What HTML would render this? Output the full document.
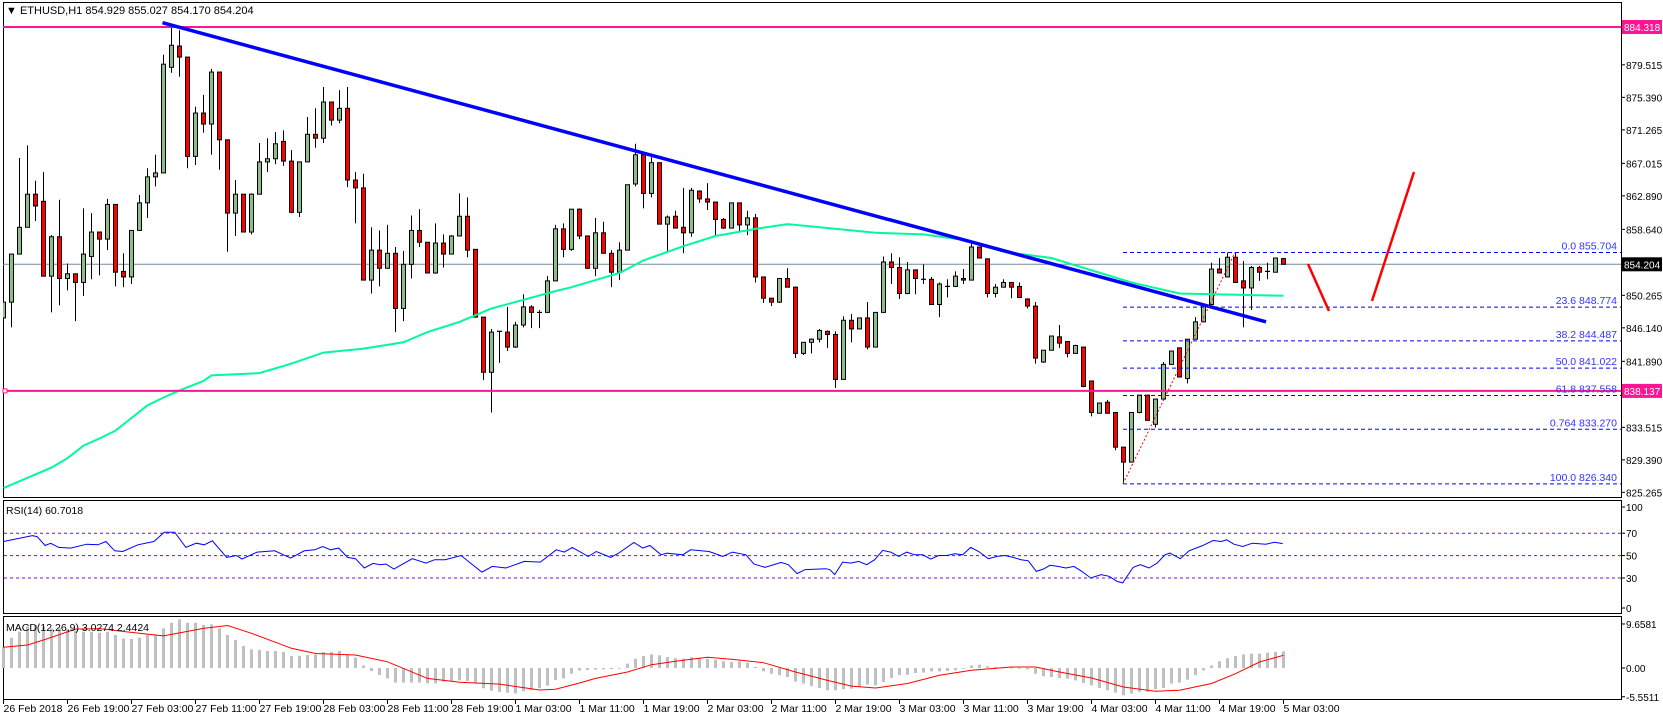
<!DOCTYPE html>
<html><head><meta charset="utf-8"><title>ETHUSD H1</title>
<style>
html,body{margin:0;padding:0;background:#fff;}
svg{display:block;font-family:"Liberation Sans",sans-serif;}
</style></head>
<body>
<svg id="chart" width="1663" height="720" viewBox="0 0 1663 720" xmlns="http://www.w3.org/2000/svg">
<rect x="0" y="0" width="1663" height="720" fill="#fff"/>
<defs><clipPath id="mainClip"><rect x="3" y="3" width="1618" height="494"/></clipPath></defs>
<g id="main"></g>
<g id="rsi"></g>
<g id="macd"></g>
<g id="axes"></g>
</svg>
<script>
const O=[847.4,849.4,855.5,858.9,863.1,862.2,852.7,857.7,852.4,853.0,851.9,855.2,858.3,857.4,861.8,853.3,852.6,858.5,862.0,865.3,865.8,879.2,881.9,880.5,867.9,873.4,872.0,878.6,870.0,860.7,863.1,858.3,863.1,867.2,867.6,869.8,867.3,860.8,867.2,870.7,870.2,874.8,872.5,874.0,864.9,863.9,852.2,856.0,853.7,855.6,848.6,854.2,858.5,857.0,853.1,856.9,855.5,857.8,860.3,856.1,847.5,840.5,845.7,845.6,843.7,846.5,848.8,848.1,848.1,852.1,858.7,856.1,861.2,857.8,853.7,858.2,855.6,853.2,856.0,864.4,868.1,863.2,867.1,859.3,860.3,858.9,858.2,863.5,862.5,862.1,859.9,858.8,862.0,859.2,860.1,852.6,849.9,849.4,852.4,851.3,842.9,844.3,844.7,845.7,845.3,839.6,847.1,846.0,847.4,843.7,848.1,854.5,853.8,850.5,853.5,852.3,852.3,849.1,851.4,851.4,852.4,852.2,856.4,854.9,850.5,851.3,851.9,851.4,849.8,848.9,841.8,843.3,845.0,844.4,842.9,843.7,839.4,835.3,836.7,835.4,831.0,829.1,835.4,837.6,833.9,837.1,841.5,843.6,839.7,844.7,846.9,849.1,853.6,852.6,855.1,852.1,851.2,853.8,853.2,853.2,854.929];
const H=[852.6,855.5,867.7,869.3,864.8,865.9,857.9,862.4,854.3,853.0,861.3,860.7,858.3,862.5,861.8,855.6,858.5,863.0,866.4,868.1,880.8,884.2,883.9,880.5,874.2,875.7,879.0,878.6,870.0,864.9,863.1,863.2,869.6,870.2,871.0,871.2,868.7,867.2,872.9,874.0,876.7,874.8,876.3,876.7,865.9,865.7,858.9,858.5,859.2,856.4,855.9,860.4,861.2,857.0,859.4,858.0,857.9,863.2,862.7,856.1,847.5,846.0,845.7,848.8,846.9,850.4,849.0,848.4,852.7,859.2,859.4,861.2,861.3,857.8,860.1,859.6,856.0,857.0,864.3,869.5,868.1,867.8,867.1,860.4,861.0,863.9,863.9,863.6,864.5,862.1,860.1,862.0,862.0,861.0,860.6,852.6,849.9,852.4,853.7,851.4,844.3,844.8,846.0,845.8,845.7,847.6,847.9,847.4,849.4,848.1,855.2,855.6,855.1,854.5,853.5,854.2,852.6,851.9,852.3,853.3,853.6,856.9,856.4,854.9,851.7,852.3,851.9,851.9,849.9,849.4,843.3,845.1,846.5,844.4,844.0,843.7,839.4,836.6,837.0,835.4,831.0,835.4,837.6,837.6,837.1,841.8,843.2,843.6,844.7,847.5,849.1,854.4,855.0,855.7,855.7,854.6,854.0,854.0,854.4,855.0,855.027];
const L=[846.7,846.2,855.5,858.9,859.7,852.7,848.1,849.0,850.9,847.0,850.2,852.3,852.8,856.0,851.4,851.3,851.7,858.5,860.1,864.1,865.8,878.5,878.0,866.4,866.8,870.9,868.1,866.2,855.8,857.8,858.3,858.0,863.1,865.9,866.9,866.7,860.7,860.2,867.2,869.0,869.6,871.8,872.1,864.0,859.4,852.2,850.5,851.4,853.7,845.6,847.0,852.4,856.4,853.1,853.0,853.8,855.5,857.8,855.1,847.5,839.5,835.4,841.7,843.2,843.6,846.2,846.1,846.1,848.1,852.1,855.1,855.9,857.4,853.6,852.7,855.6,851.3,852.2,856.0,864.1,861.3,862.7,859.3,855.9,858.8,855.6,857.7,862.0,861.1,857.8,858.7,858.8,858.3,857.9,851.9,849.3,848.9,849.3,851.3,842.3,842.7,842.9,844.3,843.6,838.5,839.6,844.3,846.0,843.4,843.7,848.1,851.7,849.8,850.4,850.4,851.7,849.1,847.5,850.0,851.3,851.7,852.2,855.0,850.0,850.0,851.3,849.9,850.0,848.6,841.6,841.7,843.3,843.6,842.4,842.9,838.6,834.9,835.3,835.3,830.6,826.34,829.1,835.3,834.4,833.5,837.1,841.5,839.9,839.1,844.7,846.9,849.1,853.1,852.6,851.9,846.2,848.4,852.1,852.3,853.2,854.170];
const C=[849.4,855.5,858.9,863.1,861.6,852.7,857.7,852.4,853.0,851.9,855.5,858.3,857.4,861.8,853.2,852.6,858.5,862.0,865.3,865.8,879.6,882.0,880.5,867.9,873.4,872.0,878.6,870.0,860.7,863.1,858.3,863.1,867.2,867.6,869.5,867.3,860.8,867.2,870.7,870.2,874.8,872.5,874.0,864.9,863.9,852.2,856.0,853.7,855.6,848.6,854.2,858.5,857.0,853.1,856.9,855.5,857.8,860.3,856.0,847.5,840.5,845.6,845.7,843.7,846.5,848.8,848.1,848.1,852.1,858.7,856.1,861.2,857.8,853.7,858.2,855.6,853.2,856.0,864.3,868.1,863.2,867.1,859.3,860.2,858.8,858.2,863.6,862.5,862.1,859.9,858.8,862.0,859.2,860.1,852.6,849.9,849.4,852.4,851.3,842.9,844.3,844.7,845.8,845.3,839.6,847.1,846.0,847.4,843.7,848.1,854.5,853.8,850.5,853.5,852.4,852.3,849.1,851.7,851.4,852.7,852.2,856.4,855.0,850.5,851.3,851.9,851.3,850.0,848.9,842.3,843.3,845.1,844.2,842.9,843.9,838.7,835.4,836.6,835.3,831.0,829.1,835.4,837.6,834.4,837.1,841.5,843.2,839.9,844.7,846.9,849.1,853.6,853.1,855.1,851.9,851.2,853.8,853.2,853.3,855.0,854.204];
const maBar=[0,6,8,10,12,14,16,18,20,22,25,26,32,36,40,45,50,53,57,61,65,69,71,77,80,85,89,94,98,102,109,115,120,125,131,141,147,160];
const maVal=[825.8,828.4,829.6,831.2,832.1,833.1,834.7,836.3,837.3,838.2,839.4,840.1,840.4,841.6,843.0,843.5,844.3,845.6,846.9,848.6,849.7,850.8,851.3,853.1,854.7,856.5,857.8,858.7,859.3,858.9,858.2,858.0,857.3,855.8,855.0,851.9,850.5,850.2];
const rsiBar=[0,3.6,4.2,5.2,5.9,6.9,8.4,10.4,11.8,12.8,13.9,14.9,16.8,18.8,20.1,21.4,22.8,24.1,25.1,26.1,27.9,29.1,29.8,31.7,33.9,35.9,37.6,38.9,39.9,40.9,41.9,43,44,45.1,46.2,47.1,47.8,48.8,51.1,52.8,53.9,55.2,57.2,58.1,59.8,61.1,62.8,65.1,67.1,69.1,70.1,71.1,73.1,74.1,75.9,76.9,78.8,79.9,80.8,82.2,82.9,84.9,85.9,88.2,89.9,91.1,92.8,93.8,95.2,97.2,98.1,99.2,100.2,102.8,103.3,103.9,104.9,105.9,106.9,107.9,108.9,109.9,110.9,111.9,112.9,113.9,114.9,115.9,116.9,117.9,118.9,119.9,120.9,121.9,123.1,124.2,125.2,126.2,127.2,128.1,129.1,130,130.8,131.8,132.8,133.8,134.8,135.9,137.2,138.2,139.2,139.9,141.2,142.1,143.2,144.2,145.2,145.8,147.1,148.2,149.8,151.2,152.2,152.9,153.8,154.9,156.1,157.8,158.9,159.9];
const rsiVal=[62.6,67.9,67,59,61,57.3,56.7,60.2,59.6,62.6,54.3,53.7,59.6,62.6,70.9,70.9,57.3,61.1,59.6,63.2,48.4,50.1,46.9,53.1,54.3,47.8,54.3,55.2,58.1,55.2,56.7,48.4,47.2,38.9,43,41.9,42.5,38,47.2,43.3,46.3,46.3,50.1,44.8,35.3,40.4,38.9,44.8,44.2,55.2,53.1,57.3,49.3,53.7,48.4,52.2,61.7,56.7,59,50.7,52.2,50.7,55.2,53.7,49.3,53.1,50.7,42.5,39.5,43.9,41.9,33.9,37.5,38.3,37.4,33,44.2,43.3,44.8,41.9,46.3,54.6,53.1,49.3,53.1,50.7,50.7,46.9,50.1,50.1,51.6,50.7,57.3,53.7,47.2,49.3,50.1,48.4,46.3,45.4,35.9,38,41.3,40.4,38.9,40.4,35.9,30,33,31.5,27,25.6,39.5,41.9,38.9,43.3,50.7,52.2,47.2,54.3,58.7,63.5,62.6,64.1,60.2,58.1,61.1,60.2,62,60.7];
const macdHist=[4.0,5.85,7.0,8.0,8.3,8.0,7.65,7.65,7.5,7.2,7.0,7.0,6.8,7.0,6.37,5.7,5.6,5.85,6.37,6.37,7.65,8.75,9.4,8.75,8.75,8.3,8.4,7.65,6.37,5.4,4.25,3.6,3.5,3.28,3.28,3.1,2.3,2.35,2.5,2.6,3.1,3.1,3.28,2.6,2.0,0.5,-0.6,-1.35,-2.0,-2.83,-2.83,-2.83,-2.83,-2.96,-2.96,-2.64,-2.5,-2.4,-2.5,-2.96,-3.9,-4.4,-4.6,-4.77,-4.9,-4.5,-4.3,-3.9,-3.4,-2.3,-2.0,-1.1,-0.5,-0.4,-0.3,-0.25,-0.2,-0.1,0.85,1.8,2.3,2.6,2.45,2.1,1.9,1.8,2.1,1.9,1.8,1.6,1.3,1.16,1.3,1.03,0.2,-0.64,-1.1,-1.4,-1.74,-2.6,-3.0,-3.5,-3.86,-4.3,-4.3,-4.1,-4.0,-3.67,-3.2,-3.35,-2.7,-1.93,-1.4,-1.3,-0.96,-0.9,-0.64,-0.64,-0.58,-0.45,-0.13,0.5,0.64,0.32,0.2,0.2,0.06,-0.13,-0.25,-1.1,-1.6,-1.74,-1.93,-2.06,-2.4,-2.9,-3.35,-3.86,-4.3,-4.76,-5.28,-4.95,-4.6,-4.6,-4.1,-3.86,-3.0,-2.83,-2.25,-1.4,-0.45,0.5,1.3,1.9,2.3,2.6,2.77,2.77,2.96,3.1,3.2];
const sigBar=[0,3,5,9,12,17,20,25,28,31,36,39,44,48,53,57,62,67,69,72,74,78,81,84,88,91,95,99,103,106,109,113,117,121,126,129,132,136,140,144,147,151,154,157,160];
const sigVal=[4.0,4.44,5.4,7.5,7.6,6.7,6.2,7.65,8.2,6.7,3.8,2.8,2.5,1.2,-2.0,-2.76,-3.1,-4.25,-4.1,-2.9,-2.0,-0.77,0.64,1.29,2.06,1.67,1.03,-0.77,-2.4,-3.5,-3.86,-3.0,-1.4,-0.45,0.2,0.2,-0.77,-1.93,-3.67,-4.5,-4.3,-3.0,-1.1,1.16,2.45];
const priceTicks=["879.515","875.390","871.265","867.015","862.890","858.640","850.265","846.140","841.890","833.515","829.390","825.265"];
const fibPct=["0.0","23.6","38.2","50.0","61.8","0.764","100.0"];
const fibPrice=[855.704,848.774,844.487,841.022,837.558,833.270,826.340];
const hLines=[884.318,838.137];
const lastPrice=854.204;
const timeLabels=["26 Feb 2018","26 Feb 19:00","27 Feb 03:00","27 Feb 11:00","27 Feb 19:00","28 Feb 03:00","28 Feb 11:00","28 Feb 19:00","1 Mar 03:00","1 Mar 11:00","1 Mar 19:00","2 Mar 03:00","2 Mar 11:00","2 Mar 19:00","3 Mar 03:00","3 Mar 11:00","3 Mar 19:00","4 Mar 03:00","4 Mar 11:00","4 Mar 19:00","5 Mar 03:00"];
const rsiTicks=["100","70","50","30","0"];
const macdTicks=["9.6581","0.00","-5.5511"];

const NS="http://www.w3.org/2000/svg";
function el(tag,attrs,parent,text){const e=document.createElementNS(NS,tag);for(const k in attrs)e.setAttribute(k,attrs[k]);if(text!==undefined)e.textContent=text;parent.appendChild(e);return e;}
const X=i=>3.5+8*i;
const Y=p=>27+(884.318-p)*7.88;
const YR=v=>611.6-v*1.12;
const YM=v=>668-v*5.18;
const RIGHT=1621;

const main=document.getElementById('main');
const rsiG=document.getElementById('rsi');
const macdG=document.getElementById('macd');
const axes=document.getElementById('axes');

const b1=el('rect',{x:3.5,y:2.5,width:RIGHT-3,height:495,fill:'none',stroke:'#000'},main);


const b2=el('rect',{x:3.5,y:500.5,width:RIGHT-3,height:113,fill:'none',stroke:'#000'},rsiG);


const b3=el('rect',{x:3.5,y:616.5,width:RIGHT-3,height:83,fill:'none',stroke:'#000'},macdG);



const plot=el('g',{'clip-path':'url(#mainClip)'},main);



const cp=el('line',{x1:3,x2:RIGHT,y1:Y(lastPrice),y2:Y(lastPrice),stroke:'#778899','stroke-width':1},plot);



for(let i=0;i<O.length;i++){
  const cx=X(i),up=C[i]>=O[i];
  const g=el('g',{},plot);
  
  
  el('line',{x1:cx,x2:cx,y1:Y(H[i]),y2:Y(L[i]),stroke:'#000','stroke-width':1},g);
  const top=Y(Math.max(O[i],C[i])),bot=Y(Math.min(O[i],C[i]));
  const h=Math.max(bot-top,0.8);
  if(h<1.5){el('line',{x1:cx-2.5,x2:cx+2.5,y1:top,y2:top,stroke:'#000','stroke-width':1.2},g);}
  else el('rect',{x:cx-2,y:top,width:4,height:h,fill:up?'#8fbc8f':'#ff0000',stroke:'#000','stroke-width':1},g);
}

let d='';
maBar.forEach((b,k)=>{d+=(k?'L':'M')+X(b).toFixed(1)+' '+Y(maVal[k]).toFixed(1);});
const ma=el('path',{d:d,fill:'none',stroke:'#00fa9a','stroke-width':2},plot);



hLines.forEach(p=>{
  const l=el('line',{x1:3,x2:RIGHT,y1:Y(p),y2:Y(p),stroke:'#ff1493','stroke-width':2},plot);
  
  
});
const hm=el('rect',{x:3,y:Y(hLines[1])-2,width:4,height:4,fill:'#fff',stroke:'#ff1493','stroke-width':1},main);



const tl=el('line',{x1:162.5,y1:22.7,x2:1266,y2:321.8,stroke:'#0000ff','stroke-width':3.5},plot);



const fibX1=1123;
fibPrice.forEach((p,k)=>{
  const l=el('line',{x1:fibX1,x2:RIGHT,y1:Y(p),y2:Y(p),stroke:'#0000ff','stroke-width':1,'stroke-dasharray':'4,3'},plot);
  
  
  const t=el('text',{x:RIGHT-4,y:Y(p)-3,'text-anchor':'end','font-size':'10.5',fill:'#3333ff'},plot,fibPct[k]+'  '+fibPrice[k].toFixed(3));
  
  
});
const fr=el('line',{x1:fibX1,y1:Y(fibPrice[6]),x2:1235,y2:Y(fibPrice[0]),stroke:'#ff0000','stroke-width':1,'stroke-dasharray':'2,2'},plot);



const r1=el('line',{x1:1308,y1:264,x2:1329,y2:311,stroke:'#ff0000','stroke-width':2.5},plot);


const r2=el('line',{x1:1372,y1:301,x2:1414,y2:172,stroke:'#ff0000','stroke-width':2.5},plot);



const tt=el('text',{x:6,y:14,'font-size':'11',fill:'#000'},main,'\u25BC ETHUSD,H1  854.929 855.027 854.170 854.204');



function tick(y,label,g,name){
  el('line',{x1:RIGHT,x2:RIGHT+4,y1:y,y2:y,stroke:'#000'},g);
  const t=el('text',{x:RIGHT+5,y:y+4,'font-size':'10',fill:'#000'},g,label);
  
  
}
priceTicks.forEach(s=>tick(Y(parseFloat(s)),s,axes,'price-tick-label'));
function box(p,bg,name){
  const y=Y(p);
  const r=el('rect',{x:RIGHT+1,y:y-7,width:40,height:14,fill:bg},axes);
  
  
  const t=el('text',{x:RIGHT+3,y:y+4,'font-size':'10',fill:'#fff'},axes,p.toFixed(3));
  
  
}
box(hLines[0],'#ff1493','resistance-price-box');
box(hLines[1],'#ff1493','support-price-box');
box(lastPrice,'#000','current-price-box');

[70,50,30].forEach(v=>{
  const l=el('line',{x1:4,x2:RIGHT,y1:YR(v),y2:YR(v),stroke:'#9400d3','stroke-width':1,'stroke-dasharray':'3,3'},rsiG);
  
  
});
d='';
rsiBar.forEach((b,k)=>{d+=(k?'L':'M')+X(b).toFixed(1)+' '+YR(rsiVal[k]).toFixed(1);});
const rl=el('path',{d:d,fill:'none',stroke:'#0000ff','stroke-width':1},rsiG);


const rt=el('text',{x:6,y:514,'font-size':'10.5',fill:'#000'},rsiG,'RSI(14) 60.7018');


rsiTicks.forEach(s=>{const v=parseFloat(s);let y=YR(v);if(v===100)y=507;if(v===0)y=608;tick(y,s,axes,'rsi-tick-label');});

macdHist.forEach((v,i)=>{
  const y0=YM(0),y1=YM(v);
  const r=el('rect',{x:X(i)-1.5,y:Math.min(y0,y1),width:3,height:Math.max(Math.abs(y1-y0),0.8),fill:'#c0c0c0'},macdG);
  
  
});
d='';
sigBar.forEach((b,k)=>{d+=(k?'L':'M')+X(b).toFixed(1)+' '+YM(sigVal[k]).toFixed(1);});
const sl=el('path',{d:d,fill:'none',stroke:'#ff0000','stroke-width':1},macdG);


const mt=el('text',{x:6,y:631,'font-size':'10.5',fill:'#000'},macdG,'MACD(12,26,9) 3.0274 2.4424');


macdTicks.forEach(s=>{const v=parseFloat(s);let y=YM(v);if(v>9)y=624;tick(y,s,axes,'macd-tick-label');});

timeLabels.forEach((s,k)=>{
  const x=X(8*k);
  el('line',{x1:x,x2:x,y1:700,y2:704,stroke:'#000'},axes);
  const t=el('text',{x:x,y:712,'font-size':'10.5',fill:'#000'},axes,s);
  
  
});
</script>
</body></html>
